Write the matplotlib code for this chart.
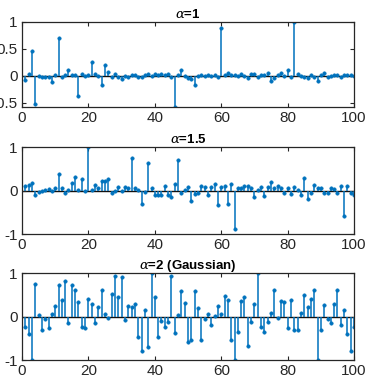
import numpy as np
import matplotlib
matplotlib.use('Agg')
import matplotlib.pyplot as plt

plt.rcParams['font.family'] = ['Liberation Sans', 'DejaVu Sans']
plt.rcParams['mathtext.fontset'] = 'dejavuserif'

# sample index
n = np.arange(1, 101)

# alpha = 1
a1 = [-0.07, 0.03, 0.47, -0.52, 0.0, -0.03, -0.03, -0.03, -0.11, 0.02,
      0.71, -0.02, 0.02, 0.10, 0.01, 0.01, -0.37, 0.04, -0.01, 0.01,
      0.25, 0.03, 0.0, -0.17, 0.20, 0.07, -0.03, 0.04, -0.02, -0.06,
      0.0, -0.03, 0.02, 0.01, -0.03, -0.02, 0.01, 0.03, 0.0, 0.03,
      0.02, 0.04, 0.02, 0.03, -0.02, -0.58, 0.01, 0.10, -0.01, -0.05,
      -0.06, -0.18, 0.0, 0.01, 0.0, 0.02, -0.01, 0.02, -0.03, 0.88,
      0.02, 0.06, 0.02, 0.01, 0.0, 0.03, -0.01, -0.04, 0.04, 0.04,
      -0.02, 0.02, 0.01, 0.05, -0.10, -0.05, 0.02, 0.05, 0.0, 0.11,
      -0.02, 1.0, 0.04, 0.0, -0.03, -0.05, 0.02, -0.02, -0.10, 0.02,
      0.05, -0.02, 0.0, 0.02, 0.01, -0.02, 0.01, 0.02, 0.01, 0.0]

# alpha = 1.5
a15 = [0.10, 0.12, 0.18, -0.10, -0.03, -0.02, 0.02, 0.04, 0.0, 0.05,
       0.37, 0.05, -0.06, 0.02, 0.17, 0.31, 0.02, 0.27, 0.0, 1.0,
       0.01, 0.12, 0.05, 0.23, 0.22, 0.27, -0.05, 0.0, 0.07, -0.02,
       0.08, 0.06, 0.74, 0.05, 0.02, -0.30, -0.03, 0.64, 0.05, -0.10,
       -0.10, -0.10, 0.10, -0.10, -0.15, 0.15, 0.71, -0.06, 0.02, 0.08,
       -0.25, -0.08, -0.05, 0.10, 0.07, -0.10, 0.07, 0.14, -0.34, 0.07,
       0.10, -0.30, 0.14, -0.88, 0.05, 0.06, 0.10, 0.10, 0.05, -0.15,
       0.02, 0.08, -0.13, 0.08, 0.20, 0.05, 0.10, 0.05, -0.05, 0.06,
       -0.07, 0.07, 0.02, -0.10, 0.30, -0.20, -0.05, 0.12, 0.05, 0.06,
       -0.05, -0.05, 0.06, 0.03, -0.05, 0.10, -0.58, 0.10, -0.05, -0.10]

# alpha = 2 (Gaussian)
a2 = [-0.25, -0.40, -1.0, 0.75, 0.03, -0.32, -0.05, -0.27, 0.06, 0.25,
      0.73, 0.38, 0.82, -0.15, 0.73, 0.60, 0.33, -0.24, -0.26, 0.40,
      0.30, -0.15, 0.21, 0.61, 0.06, -0.03, 0.53, 0.94, 0.45, 0.90,
      -0.08, 0.25, 0.22, 0.28, -0.48, -0.80, 0.15, -0.70, 1.0, 0.45,
      -0.48, -0.10, -0.25, -0.12, 0.94, -0.38, 0.03, 0.58, 0.32, -0.58,
      -0.55, 0.58, 0.20, -0.53, -0.05, 0.06, -0.20, 0.02, 0.25, 0.05,
      0.47, 0.38, -0.55, -1.0, -0.35, 0.35, 0.45, -0.68, -0.12, 0.28,
      1.0, -0.25, -0.35, -0.13, 0.08, 0.60, -0.03, 0.35, 0.34, -0.27,
      0.38, -0.30, -0.30, 0.08, 0.50, 0.23, 0.40, 0.62, -1.0, -0.30,
      0.26, -0.05, -0.15, 0.30, 0.60, -0.20, 0.15, -0.40, -0.80, -0.25]

titles = [r'$\alpha$=1', r'$\alpha$=1.5', r'$\alpha$=2 (Gaussian)']
series = [a1, a15, a2]
ylims = [(-0.58, 1), (-1, 1), (-1, 1)]
yticks = [[-0.5, 0, 0.5, 1], [-1, 0, 1], [-1, 0, 1]]
yticklabels = [['-0.5', '0', '0.5', '1'], ['-1', '0', '1'], ['-1', '0', '1']]

color = '#0072BD'
fig = plt.figure(figsize=(3.69, 3.83), dpi=100)
bottoms = [0.7206, 0.389, 0.060]
heights = [0.222, 0.227, 0.227]

for k in range(3):
    ax = fig.add_axes([0.0596, bottoms[k], 0.9, heights[k]])
    ml, sl, bl = ax.stem(n, series[k], basefmt=' ')
    plt.setp(sl, color=color, linewidth=1.1)
    plt.setp(ml, color=color, marker='o', markersize=2.4,
             markerfacecolor=color, markeredgewidth=0.5)
    ax.axhline(0, color='#111111', linewidth=1.0, zorder=1)
    ax.set_xlim(0, 100)
    ax.set_ylim(*ylims[k])
    ax.set_xticks(range(0, 101, 20))
    ax.set_yticks(yticks[k])
    ax.set_yticklabels(yticklabels[k])
    ax.tick_params(direction='in', top=True, right=True, length=3,
                   width=0.8, labelsize=11, colors='#262626', pad=3)
    for s in ax.spines.values():
        s.set_linewidth(0.9)
        s.set_color('#262626')
    ax.set_title(titles[k], fontsize=9.5, fontweight='bold', pad=3)

fig.savefig('out.png', dpi=100)
